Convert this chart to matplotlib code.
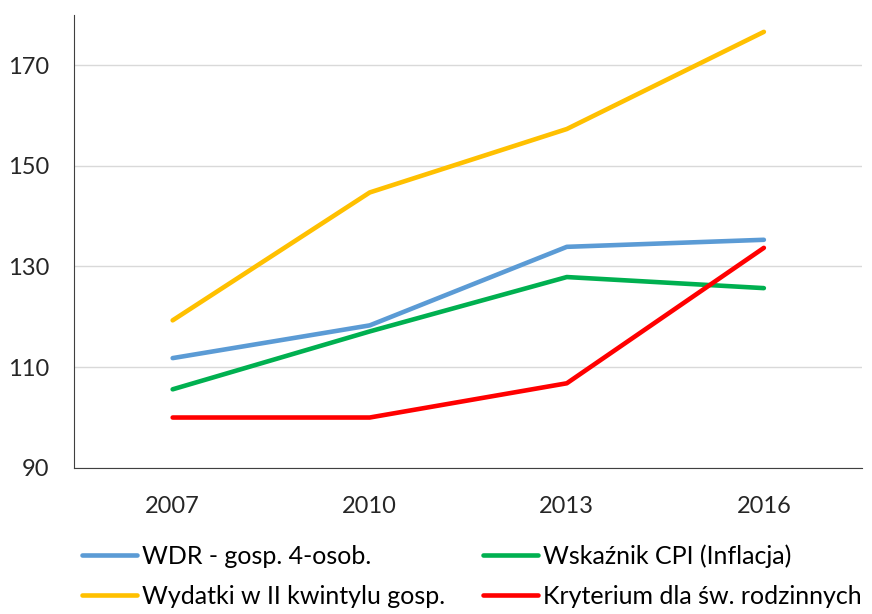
import matplotlib.pyplot as plt

lata = ["2007", "2010", "2013", "2016"]
wdr = [111.8, 118.3, 133.9, 135.3]
cpi = [105.6, 117.1, 127.9, 125.7]
wydatki = [119.3, 144.7, 157.3, 176.6]
kryterium = [100.0, 100.0, 106.8, 133.7]

plt.rcParams['font.family'] = ['Lato', 'DejaVu Sans']

fig = plt.figure(figsize=(8.72, 6.14), dpi=100)
ax = fig.add_axes([0.085, 0.238, 0.904, 0.738])

x = range(len(lata))
ax.plot(x, wdr, color="#5B9BD5", lw=3.3, solid_capstyle='round', label="WDR - gosp. 4-osob.")
ax.plot(x, cpi, color="#00B050", lw=3.3, solid_capstyle='round', label="Wskaźnik CPI (Inflacja)")
ax.plot(x, wydatki, color="#FFC000", lw=3.3, solid_capstyle='round', label="Wydatki w II kwintylu gosp.")
ax.plot(x, kryterium, color="#FF0000", lw=3.3, solid_capstyle='round', label="Kryterium dla św. rodzinnych")

ax.set_xlim(-0.5, 3.5)
ax.set_ylim(90, 180)
ax.set_yticks([90, 110, 130, 150, 170])
ax.set_xticks(list(x))
ax.set_xticklabels(lata)
ax.tick_params(length=0, labelsize=17, colors="#262626")
ax.tick_params(axis='x', pad=20)
ax.tick_params(axis='y', pad=18)
ax.grid(axis='y', color="#D9D9D9", lw=1)
ax.set_axisbelow(True)
ax.spines['top'].set_visible(False)
ax.spines['right'].set_visible(False)
ax.spines['left'].set_color("#404040")
ax.spines['bottom'].set_color("#404040")

# kolejnosc: wiersz 1 WDR, CPI ; wiersz 2 Wydatki, Kryterium
h, l = ax.get_legend_handles_labels()
order = [0, 2, 1, 3]
fig.legend([h[i] for i in order], [l[i] for i in order], ncol=2,
           loc='upper left', bbox_to_anchor=(0.0826, 0.13), frameon=False,
           fontsize=18, handlelength=2.2, handletextpad=0.2,
           columnspacing=1.5, labelspacing=0.68, borderaxespad=0)

fig.savefig("out.png", dpi=100)
